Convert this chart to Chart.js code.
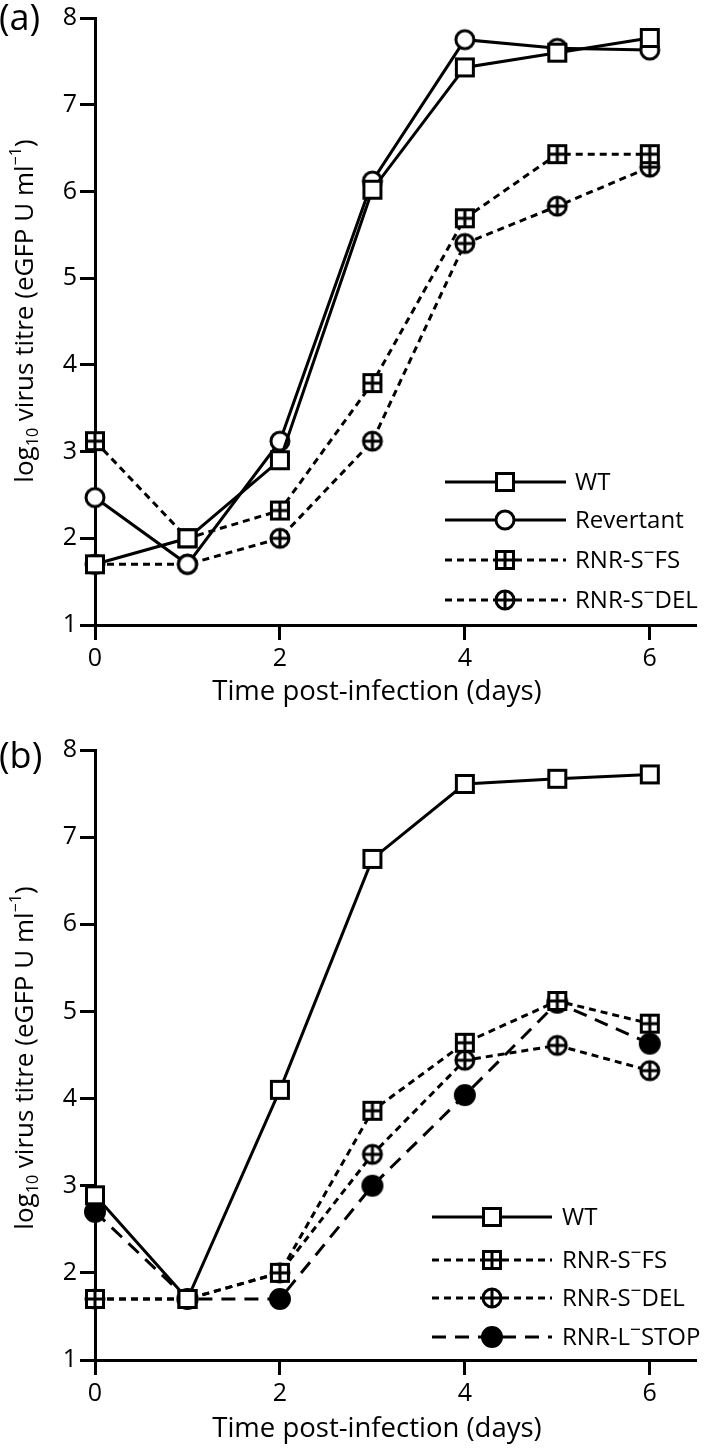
<!DOCTYPE html>
<html>
<head>
<meta charset="utf-8">
<script src="https://cdn.jsdelivr.net/npm/chart.js@4.4.1/dist/chart.umd.min.js"></script>
<style>
    html, body { margin: 0; padding: 0; background: #fff; }
    canvas { display: block; }
</style>
</head>
<body>
<canvas id="chartA" width="709" height="725"></canvas>
<canvas id="chartB" width="709" height="725"></canvas>
<script>
// days post-infection (x values)
var days = [0, 1, 2, 3, 4, 5, 6];

// panel (a) - log10 titres
var wtA = [1.7, 2.0, 2.9, 6.02, 7.43, 7.6, 7.77];
var revertantA = [2.47, 1.7, 3.12, 6.12, 7.75, 7.65, 7.63];
var fsA = [3.12, 2.0, 2.32, 3.79, 5.69, 6.43, 6.43];
var delA = [1.7, 1.7, 2.0, 3.12, 5.4, 5.83, 6.28];

// panel (b)
var wtB = [2.89, 1.7, 4.1, 6.75, 7.61, 7.67, 7.72];
var fsB = [1.7, 1.7, 2.0, 3.86, 4.64, 5.12, 4.86];
var delB = [1.7, 1.7, 2.0, 3.36, 4.44, 4.61, 4.32];
var stopB = [2.7, 1.7, 1.7, 3.0, 4.04, 5.1, 4.63];

var FONT = "'Open Sans', 'Noto Sans', sans-serif";
var LINE_W = 3;

/*
----------------------------------
     Marker images
----------------------------------
*/

function makeMarker(kind) {
    var c = document.createElement('canvas');
    var s = 26;
    c.width = s;
    c.height = s;
    var ctx = c.getContext('2d');
    var m = s / 2;
    ctx.strokeStyle = '#000';
    ctx.lineWidth = 3;

    if (kind == 'square' || kind == 'squareCross') {
        var half = 8.5;
        ctx.fillStyle = '#fff';
        ctx.fillRect(m - half, m - half, half * 2, half * 2);
        ctx.strokeRect(m - half, m - half, half * 2, half * 2);
        if (kind == 'squareCross') {
            ctx.beginPath();
            ctx.moveTo(m - half, m); ctx.lineTo(m + half, m);
            ctx.moveTo(m, m - half); ctx.lineTo(m, m + half);
            ctx.stroke();
        }
    } else {
        var r = kind == 'dot' ? 9.5 : 9;
        ctx.beginPath();
        ctx.arc(m, m, r, 0, Math.PI * 2);
        ctx.fillStyle = kind == 'dot' ? '#000' : '#fff';
        ctx.fill();
        ctx.stroke();
        if (kind == 'circleCross') {
            ctx.beginPath();
            ctx.moveTo(m - r, m); ctx.lineTo(m + r, m);
            ctx.moveTo(m, m - r); ctx.lineTo(m, m + r);
            ctx.stroke();
        }
    }
    return c;
}

var styles = {
    wt: { dash: [], marker: makeMarker('square') },
    rev: { dash: [], marker: makeMarker('circle') },
    fs: { dash: [7, 5], marker: makeMarker('squareCross') },
    del: { dash: [7, 5], marker: makeMarker('circleCross') },
    stop: { dash: [14, 9], marker: makeMarker('dot') }
};

function series(label, values, style) {
    return {
        label: label,
        data: values.map((v, i) => ({ x: days[i], y: v })),
        borderColor: '#000',
        backgroundColor: '#000',
        borderWidth: LINE_W,
        borderDash: style.dash,
        pointStyle: style.marker,
        pointRadius: 10,
        pointHoverRadius: 10,
        tension: 0,
        fill: false,
        clip: false
    };
}

/*
----------------------------------
     Titles, panel label, legend
----------------------------------
*/

function drawRich(ctx, parts, size, x, y) {
    var fontOf = p => ((p.sub || p.sup) ? size * 0.62 : size) + 'px ' + FONT;
    var total = 0;
    parts.forEach(p => {
        ctx.font = fontOf(p);
        total += ctx.measureText(p.t).width;
    });
    var cx = x - total / 2;
    parts.forEach(p => {
        ctx.font = fontOf(p);
        var dy = p.sub ? size * 0.3 : (p.sup ? -size * 0.38 : 0);
        ctx.fillText(p.t, cx, y + dy);
        cx += ctx.measureText(p.t).width;
    });
}

function drawLabel(ctx, parts, size, x, y) {
    parts.forEach(p => {
        var s = p.sup ? size * 0.8 : size;
        ctx.font = s + 'px ' + FONT;
        var dy = p.sup ? -size * 0.3 : 0;
        ctx.fillText(p.t, x, y + dy);
        x += ctx.measureText(p.t).width;
    });
}

var yTitle = [
    { t: 'log' }, { t: '10', sub: true }, { t: ' virus titre (eGFP U ml' }, { t: '\u22121', sup: true }, { t: ')' }
];
var xTitle = [{ t: 'Time post-infection (days)' }];

var decor = {
    id: 'decor',
    afterDraw(chart, args, o) {
        var ctx = chart.ctx;
        ctx.save();
        ctx.fillStyle = '#000';
        ctx.strokeStyle = '#000';
        ctx.textBaseline = 'middle';
        ctx.textAlign = 'left';

        // panel label
        ctx.font = '36px ' + FONT;
        ctx.fillText(o.panel, -1, o.panelY);

        // axis titles
        drawRich(ctx, xTitle, 27.5, o.xTitleX, o.xTitleY);
        ctx.save();
        ctx.translate(o.yTitleX, o.yTitleY);
        ctx.rotate(-Math.PI / 2);
        drawRich(ctx, yTitle, 26, 0, 0);
        ctx.restore();

        // legend
        var lg = o.legend;
        o.items.forEach((item, i) => {
            var y = lg.rows[i];
            ctx.lineWidth = LINE_W;
            ctx.setLineDash(item.style.dash);
            ctx.beginPath();
            ctx.moveTo(lg.x1, y); ctx.lineTo(lg.mx, y);
            ctx.stroke();
            ctx.beginPath();
            ctx.moveTo(lg.mx + 10, y); ctx.lineTo(lg.x2, y);
            ctx.stroke();
            ctx.setLineDash([]);
            var mk = item.style.marker;
            ctx.drawImage(mk, lg.mx - mk.width / 2, y - mk.height / 2);
            drawLabel(ctx, item.parts, 24, lg.tx, y + 1);
        });
        ctx.restore();
    }
};

function axisOptions(min, max, step, tickPad, fit) {
    return {
        type: 'linear',
        min: min,
        max: max,
        ticks: {
            stepSize: step,
            includeBounds: false,
            color: '#000',
            padding: tickPad,
            maxRotation: 0,
            font: { family: FONT, size: 25 }
        },
        grid: {
            display: true,
            drawOnChartArea: false,
            drawTicks: true,
            tickLength: 15,
            tickWidth: 3,
            tickColor: '#000'
        },
        border: { display: true, color: '#000', width: 3 },
        afterFit: fit
    };
}

function initPanel(id, datasets, top, xHeight, deco) {
    return new Chart(document.getElementById(id), {
        type: 'line',
        data: { datasets: datasets },
        options: {
            responsive: false,
            animation: false,
            events: [],
            layout: { padding: { top: top, right: 6, left: 0, bottom: 0 } },
            scales: {
                x: axisOptions(0, 6.5, 2, 4, s => { s.height = xHeight; }),
                y: axisOptions(1, 8, 1, 3, s => { s.width = 95; })
            },
            plugins: {
                legend: { display: false },
                tooltip: { enabled: false },
                decor: deco
            }
        },
        plugins: [decor]
    });
}

var S = '\u2212';

initPanel('chartA', [
    series('WT', wtA, styles.wt),
    series('Revertant', revertantA, styles.rev),
    series('RNR-S-FS', fsA, styles.fs),
    series('RNR-S-DEL', delA, styles.del)
], 15, 100, {
    panel: '(a)', panelY: 20,
    xTitleX: 377, xTitleY: 692,
    yTitleX: 26, yTitleY: 311,
    legend: { x1: 445, x2: 566, mx: 505, tx: 575, rows: [482, 520, 560, 600] },
    items: [
        { style: styles.wt, parts: [{ t: 'WT' }] },
        { style: styles.rev, parts: [{ t: 'Revertant' }] },
        { style: styles.fs, parts: [{ t: 'RNR-S' }, { t: S, sup: true }, { t: 'FS' }] },
        { style: styles.del, parts: [{ t: 'RNR-S' }, { t: S, sup: true }, { t: 'DEL' }] }
    ]
});

initPanel('chartB', [
    series('WT', wtB, styles.wt),
    series('RNR-S-FS', fsB, styles.fs),
    series('RNR-S-DEL', delB, styles.del),
    series('RNR-L-STOP', stopB, styles.stop)
], 25, 90, {
    panel: '(b)', panelY: 33,
    xTitleX: 377, xTitleY: 704,
    yTitleX: 26, yTitleY: 333,
    legend: { x1: 432, x2: 552, mx: 492, tx: 562, rows: [492, 535, 573, 612] },
    items: [
        { style: styles.wt, parts: [{ t: 'WT' }] },
        { style: styles.fs, parts: [{ t: 'RNR-S' }, { t: S, sup: true }, { t: 'FS' }] },
        { style: styles.del, parts: [{ t: 'RNR-S' }, { t: S, sup: true }, { t: 'DEL' }] },
        { style: styles.stop, parts: [{ t: 'RNR-L' }, { t: S, sup: true }, { t: 'STOP' }] }
    ]
});
</script>
</body>
</html>
